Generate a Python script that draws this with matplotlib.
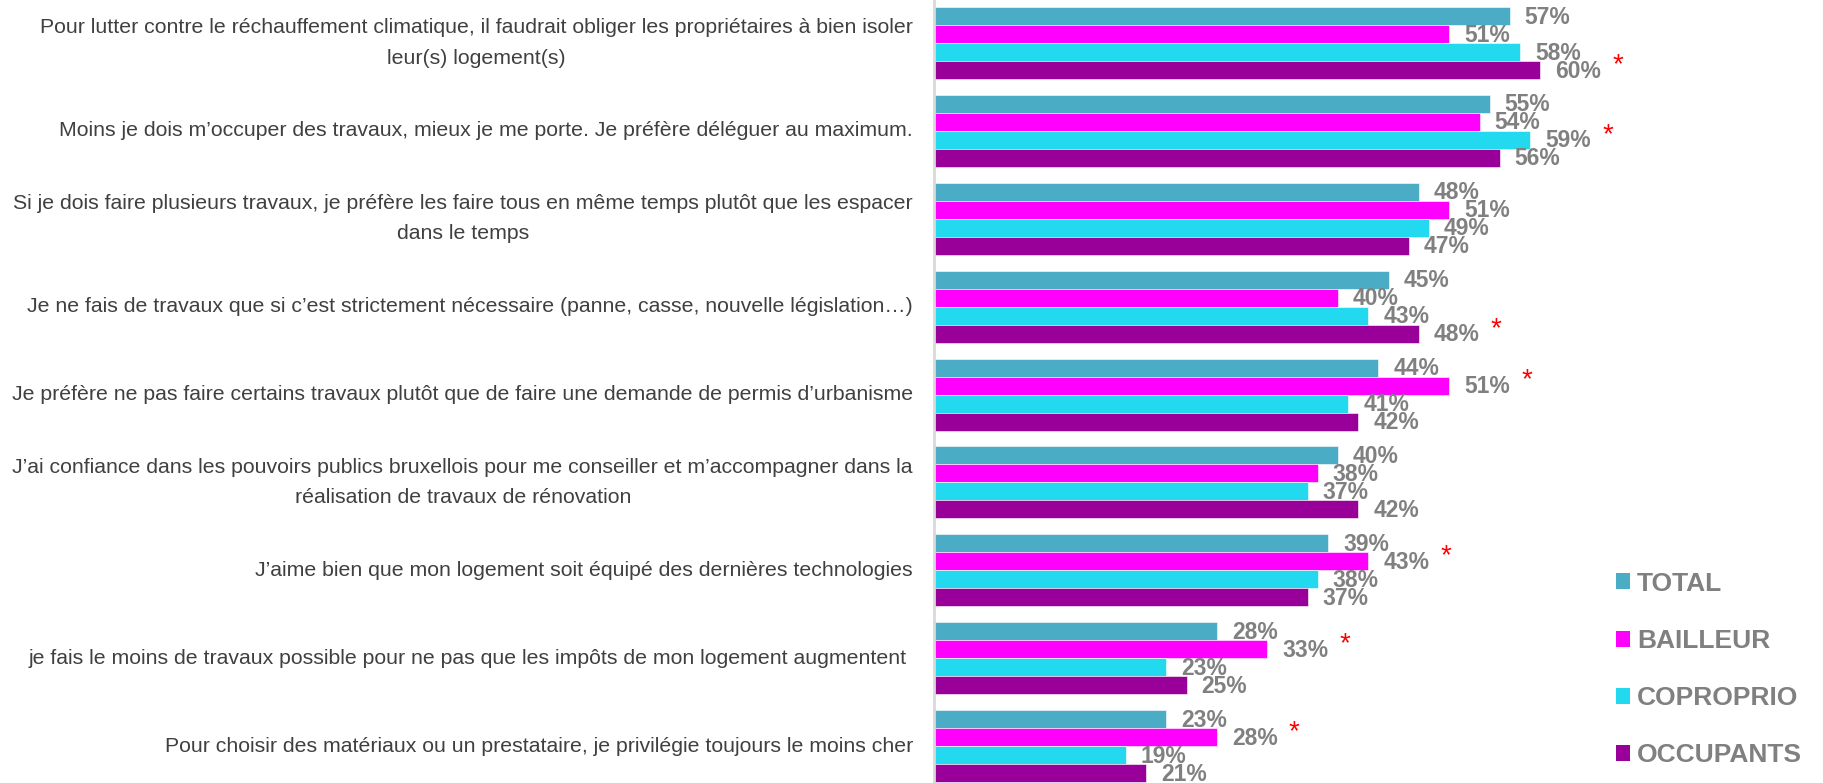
import numpy as np
import matplotlib.pyplot as plt
from matplotlib.patches import Patch

plt.rcParams['font.family'] = ['Liberation Sans', 'DejaVu Sans']

# Affirmations (de haut en bas)
affirmations = [
    "Pour lutter contre le réchauffement climatique, il faudrait obliger les propriétaires à bien isoler\nleur(s) logement(s)",
    "Moins je dois m’occuper des travaux, mieux je me porte. Je préfère déléguer au maximum.",
    "Si je dois faire plusieurs travaux, je préfère les faire tous en même temps plutôt que les espacer\ndans le temps",
    "Je ne fais de travaux que si c’est strictement nécessaire (panne, casse, nouvelle législation…)",
    "Je préfère ne pas faire certains travaux plutôt que de faire une demande de permis d’urbanisme",
    "J’ai confiance dans les pouvoirs publics bruxellois pour me conseiller et m’accompagner dans la\nréalisation de travaux de rénovation",
    "J’aime bien que mon logement soit équipé des dernières technologies",
    "je fais le moins de travaux possible pour ne pas que les impôts de mon logement augmentent ",
    "Pour choisir des matériaux ou un prestataire, je privilégie toujours le moins cher",
]

groupes = ['TOTAL', 'BAILLEUR', 'COPROPRIO', 'OCCUPANTS']
couleurs = ['#4BACC6', '#FF00FF', '#22D9F0', '#990099']

total = [57, 55, 48, 45, 44, 40, 39, 28, 23]
bailleur = [51, 54, 51, 40, 51, 38, 43, 33, 28]
coproprio = [58, 59, 49, 43, 41, 37, 38, 23, 19]
occupants = [60, 56, 47, 48, 42, 42, 37, 25, 21]

# différences significatives : (affirmation, groupe)
significatif = [(0, 3), (1, 2), (3, 3), (4, 1), (6, 1), (7, 1), (8, 1)]

series = [total, bailleur, coproprio, occupants]

fig = plt.figure(figsize=(18.24, 7.83), dpi=100)
ax = fig.add_axes([934 / 1824, 0, 890 / 1824, 1])

h = 0.205
pos = np.arange(len(affirmations))
for k, (vals, nom, c) in enumerate(zip(series, groupes, couleurs)):
    y = pos - 1.5 * h + k * h
    bars = ax.barh(y, vals, height=h, color=c, edgecolor='white', linewidth=0.4, label=nom)
    for b, v in zip(bars, vals):
        ax.annotate(f"{v}%", (v, b.get_y() + h / 2), xytext=(15, -1),
                    textcoords='offset pixels', ha='left', va='center',
                    fontsize=16.5, fontweight='bold', color='#808080')

for i, k in significatif:
    v = series[k][i]
    y = pos[i] - 1.5 * h + k * h
    ax.annotate("*", (v, y), xytext=(72, 5), textcoords='offset pixels',
                ha='left', va='center', fontsize=20, color='red')

ax.set_xlim(0, 88.1)
ax.set_ylim(8.42, -0.49)
ax.set_xticks([])
ax.set_yticks([])
for s in ['top', 'right', 'bottom']:
    ax.spines[s].set_visible(False)
ax.spines['left'].set_color('#d9d9d9')
ax.spines['left'].set_linewidth(2)

# libellés des affirmations
for i, txt in enumerate(affirmations):
    ax.annotate(txt, (0, pos[i]), xytext=(-21, 0), textcoords='offset pixels',
                ha='right', va='center', multialignment='center',
                fontsize=15.3, color='#404040', linespacing=1.75,
                annotation_clip=False)

handles = [Patch(facecolor=c, edgecolor='none') for c in couleurs]
leg = fig.legend(handles, groupes, loc='upper left', bbox_to_anchor=(1592 / 1824, 1 - 548 / 783),
                 frameon=False, handlelength=0.55, handleheight=0.55, handletextpad=0.25,
                 labelspacing=1.26, prop={'size': 19, 'weight': 'bold'})
for t in leg.get_texts():
    t.set_color('#808080')

fig.savefig('out.png', dpi=100)
